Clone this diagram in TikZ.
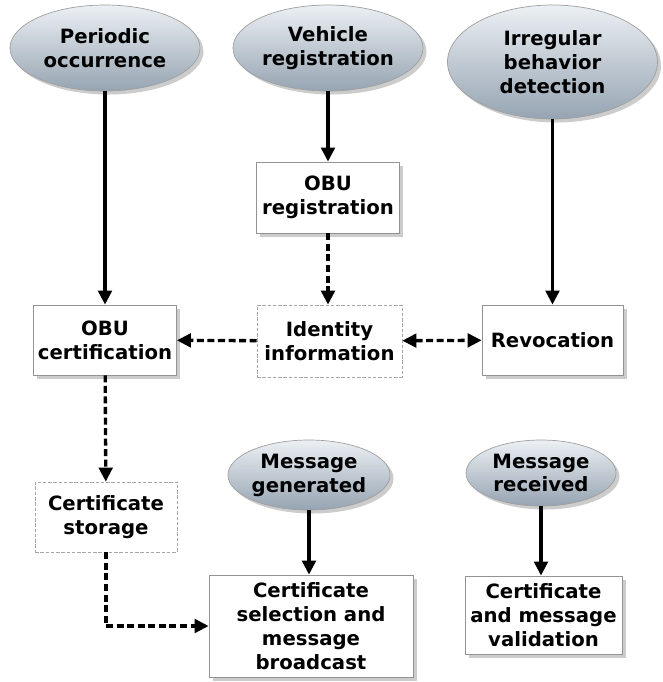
\documentclass[tikz,border=0pt]{standalone}
\usepackage{fontspec}
\setmainfont{DejaVu Sans}
\usepackage{xcolor}
\usepackage{tikz}
\usetikzlibrary{shapes.geometric,shadows,arrows.meta}

\definecolor{elltop}{RGB}{236,240,244}
\definecolor{ellbot}{RGB}{150,164,178}

\begin{document}
\begin{tikzpicture}[
    every node/.style={font=\fontsize{11.2}{13.6}\selectfont\bfseries, align=center, inner sep=0pt},
    event/.style={ellipse, draw=gray!75, top color=elltop, bottom color=ellbot,
        drop shadow={shadow xshift=0.07cm, shadow yshift=-0.07cm, opacity=0.4}},
    task/.style={rectangle, draw=gray!85, fill=white,
        drop shadow={shadow xshift=0.07cm, shadow yshift=-0.07cm, opacity=0.4}},
    info/.style={rectangle, draw=gray!70, dash pattern=on 2pt off 1pt, fill=white},
    >={Triangle[length=0.28cm,width=0.27cm]},
    flow/.style={line width=1.9pt, ->},
    dflow/.style={line width=1.9pt, dash pattern=on 4pt off 2pt},
]
\useasboundingbox (0,0) rectangle (13.26,-13.64);

    \node[event, minimum width=3.8cm, minimum height=1.72cm] (periodic) at (2.10,-0.96) {Periodic\\occurrence};
    \node[event, minimum width=3.8cm, minimum height=1.72cm] (vehicle) at (6.56,-0.96) {Vehicle\\registration};
    \node[event, minimum width=4.2cm, minimum height=2.28cm] (irregular) at (11.05,-1.24) {Irregular\\behavior\\detection};

    \node[task, minimum width=2.86cm, minimum height=1.42cm] (obureg) at (6.56,-3.95) {OBU\\registration};
    \node[task, minimum width=2.86cm, minimum height=1.40cm] (obucert) at (2.10,-6.80) {OBU\\certification};
    \node[info, minimum width=2.90cm, minimum height=1.44cm] (identity) at (6.59,-6.82) {Identity\\information};
    \node[task, minimum width=2.82cm, minimum height=1.40cm] (revoke) at (11.05,-6.80) {Revocation};

    \node[info, minimum width=2.84cm, minimum height=1.40cm] (storage) at (2.12,-10.34) {Certificate\\storage};
    \node[event, minimum width=3.1cm, minimum height=1.40cm] (msggen) at (6.18,-9.50) {Message\\generated};
    \node[event, minimum width=3.0cm, minimum height=1.32cm] (msgrec) at (10.82,-9.46) {Message\\received};

    \node[task, minimum width=4.08cm, minimum height=2.04cm] (select) at (6.22,-12.52) {Certificate\\selection and\\message\\broadcast};
    \node[task, minimum width=3.14cm, minimum height=1.56cm] (valid) at (10.87,-12.30) {Certificate\\and message\\validation};

    % draw the arrows
    \draw[flow] (periodic) -- (obucert);
    \draw[flow] (vehicle) -- (obureg);
    \draw[flow] (irregular) -- (revoke);
    \draw[dflow, ->] (obureg) -- (obureg |- identity.north);
    \draw[dflow, ->] (identity) -- (obucert);
    \draw[dflow, <->] (identity) -- (revoke);
    \draw[dflow, ->] (obucert) -- (storage);
    \draw[dflow, ->] (storage) |- (select);
    \draw[flow] (msggen) -- (msggen |- select.north);
    \draw[flow] (msgrec) -- (msgrec |- valid.north);

\end{tikzpicture}
\end{document}
